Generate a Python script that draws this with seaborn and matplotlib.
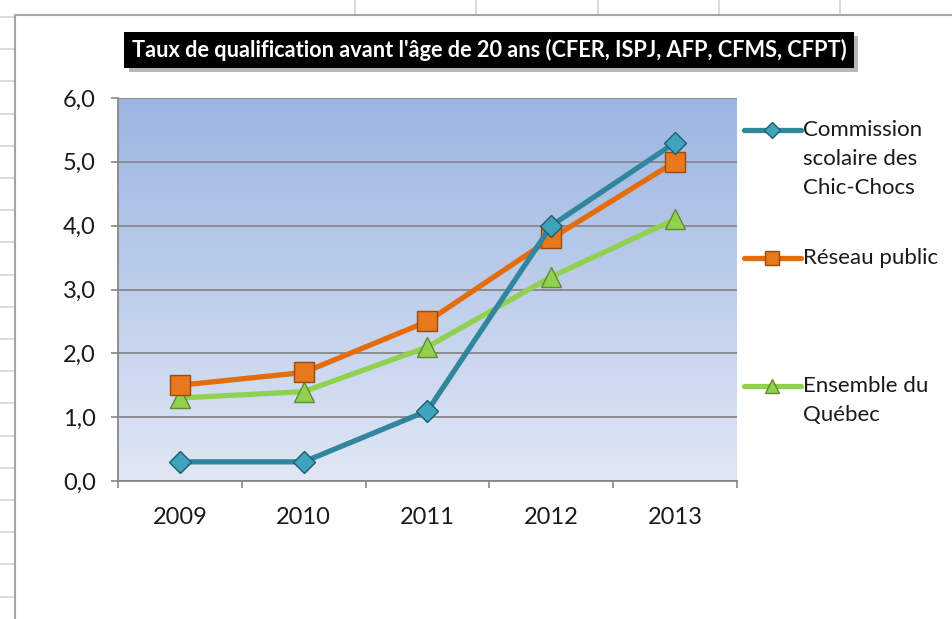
import numpy as np
import pandas as pd
import seaborn as sns
import matplotlib.pyplot as plt
import matplotlib.patheffects as pe
from matplotlib.lines import Line2D
from matplotlib.ticker import FuncFormatter

sns.set_theme(style="white")
plt.rcParams['font.family'] = ['Lato', 'DejaVu Sans']

# data
years = [2009, 2010, 2011, 2012, 2013]
cs_chic_chocs = [0.3, 0.3, 1.1, 4.0, 5.3]
reseau_public = [1.5, 1.7, 2.5, 3.8, 5.0]
ensemble_quebec = [1.3, 1.4, 2.1, 3.2, 4.1]
series_names = ["Commission scolaire des Chic-Chocs", "Réseau public", "Ensemble du Québec"]
title = "Taux de qualification avant l'âge de 20 ans (CFER, ISPJ, AFP, CFMS, CFPT)"

W, H = 953, 619
fig = plt.figure(figsize=(W / 100, H / 100), dpi=100)
fig.patch.set_facecolor('white')

def px(x, y):
    return x / W, 1 - y / H

# spreadsheet cell borders behind the chart
for yy in np.arange(17, H, 32.2):
    fig.add_artist(Line2D([0, 15 / W], [1 - yy / H] * 2, color='#d4d4d4', lw=1.2))
for xx in [355, 476, 598, 719, 840]:
    fig.add_artist(Line2D([xx / W] * 2, [1, 1 - 15 / H], color='#d4d4d4', lw=1.2))
fig.add_artist(Line2D([15 / W, 1], [1 - 15 / H] * 2, color='#a6a6a6', lw=1.5))
fig.add_artist(Line2D([15 / W] * 2, [0, 1 - 15 / H], color='#a6a6a6', lw=1.5))

ax = fig.add_axes([118 / W, 1 - 481 / H, (737 - 118) / W, (481 - 98) / H])

# gradient plot area
top = np.array([0x9b, 0xb5, 0xe2]) / 255
bot = np.array([0xe0, 0xe7, 0xf4]) / 255
t = np.linspace(0, 1, 256)[:, None]
grad = (top * (1 - t) + bot * t)[:, None, :]
ax.imshow(grad, extent=(2008.5, 2013.5, 0, 6), aspect='auto', zorder=0)

df = pd.DataFrame({'year': years, 'cs': cs_chic_chocs, 'rp': reseau_public, 'eq': ensemble_quebec})

sns.lineplot(data=df, x='year', y='cs', ax=ax, color='#31859c', lw=3.8, marker='D', ms=11,
             mfc='#3fa3bd', mec='#1f5c6c', mew=1.0, label=series_names[0], zorder=5)
sns.lineplot(data=df, x='year', y='rp', ax=ax, color='#e46c0a', lw=3.8, marker='s', ms=14,
             mfc='#e8781c', mec='#9a4a0a', mew=1.0, label=series_names[1], zorder=4)
sns.lineplot(data=df, x='year', y='eq', ax=ax, color='#92d050', lw=3.8, marker='^', ms=14,
             mfc='#92d050', mec='#5f8c2e', mew=1.0, label=series_names[2], zorder=3)

ax.set_xlim(2008.5, 2013.5)
ax.set_ylim(0, 6)
ax.set_xlabel('')
ax.set_ylabel('')

ax.set_yticks(np.arange(0, 7, 1))
ax.yaxis.set_major_formatter(FuncFormatter(lambda v, p: f"{v:.1f}".replace('.', ',')))
ax.set_xticks(np.arange(2008.5, 2014, 1))
ax.set_xticklabels([])
ax.set_xticks(years, minor=True)
ax.set_xticklabels([str(y) for y in years], minor=True)

ax.grid(axis='y', color='#878787', lw=1.3, zorder=1)
for g in ax.get_ygridlines():
    g.set_zorder(1)
for s in ['top', 'right']:
    ax.spines[s].set_visible(False)
for s in ['left', 'bottom']:
    ax.spines[s].set_color('#878787')
    ax.spines[s].set_linewidth(1.3)

ax.tick_params(axis='y', which='major', left=True, length=5, width=1.2, color='#878787',
               pad=11, labelsize=17, labelcolor='#1a1a1a')
ax.tick_params(axis='x', which='major', bottom=True, length=5, width=1.2, color='#878787')
ax.tick_params(axis='x', which='minor', bottom=True, length=0, pad=19, labelsize=17,
               labelcolor='#1a1a1a')

# legend, labels padded so the marker lines up with the first text line
handles = ax.get_lines()[:3]
leg_labels = ["\n\nCommission\nscolaire des\nChic-Chocs",
              "\nRéseau public\n",
              "\n\nEnsemble du\nQuébec\n"]
leg = ax.legend(handles, leg_labels, loc='upper left', bbox_to_anchor=px(744, 62),
                bbox_transform=fig.transFigure, frameon=False, fontsize=16,
                handlelength=2.55, handletextpad=0.1, labelspacing=0.95,
                borderpad=0, borderaxespad=0, markerscale=0.7)
for txt in leg.get_texts():
    txt.set_linespacing(1.56)
    txt.set_color('#1a1a1a')

tt = fig.text(*px(489, 50), title, ha='center', va='center', color='white',
              fontsize=15.7, fontweight='bold',
              bbox=dict(boxstyle='square,pad=0.33', fc='black', ec='none'))
tt.get_bbox_patch().set_path_effects([pe.withSimplePatchShadow(offset=(3, -3), shadow_rgbFace='#888888', alpha=0.6)])

fig.savefig('out.png', dpi=100)
